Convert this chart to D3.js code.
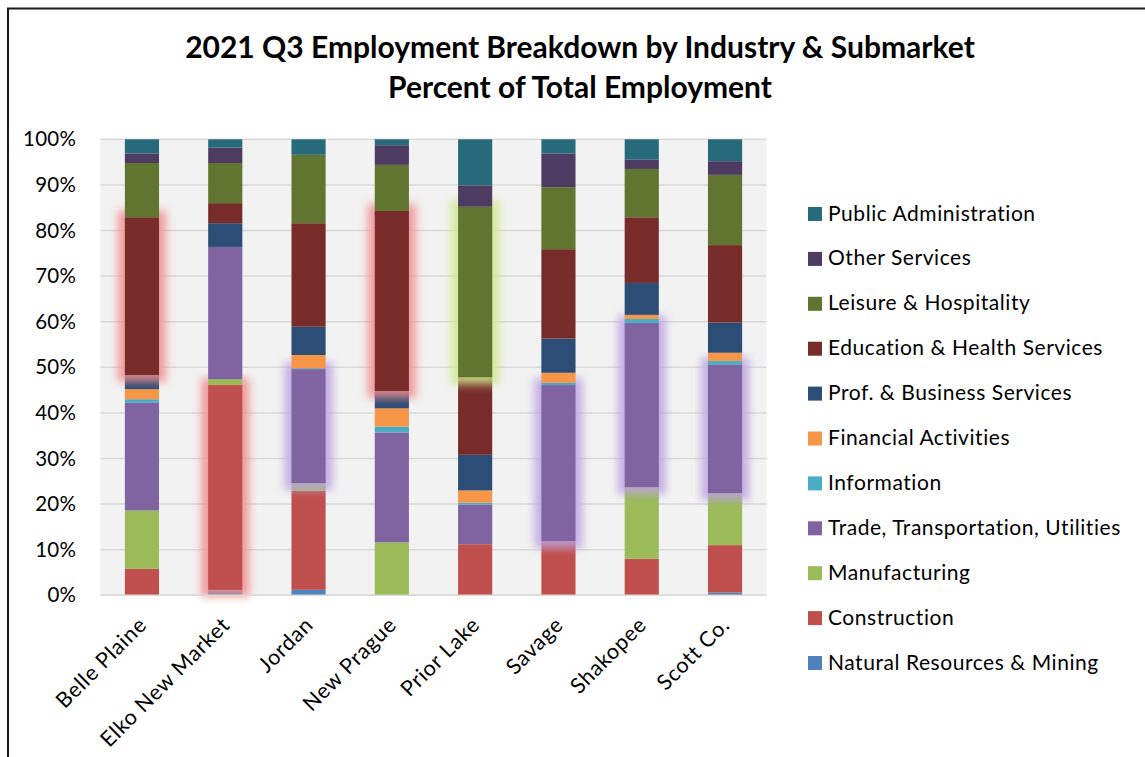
<!DOCTYPE html>
<html>
<head>
<meta charset="utf-8">
<script src="https://cdn.jsdelivr.net/npm/d3@7"></script>
<style>
  html, body { margin: 0; padding: 0; background: #fff; }
  svg { display: block; }
  text { font-family: Lato, "Open Sans", "Liberation Sans", sans-serif; fill: #000; }
</style>
</head>
<body>
<svg id="chart" width="1145" height="757"></svg>
<script>
// Submarkets along the x axis
const categories = ["Belle Plaine", "Elko New Market", "Jordan", "New Prague", "Prior Lake", "Savage", "Shakopee", "Scott Co."];

// Industries, stacked bottom to top
const industries = [
  "Natural Resources & Mining", "Construction", "Manufacturing",
  "Trade, Transportation, Utilities", "Information", "Financial Activities",
  "Prof. & Business Services", "Education & Health Services",
  "Leisure & Hospitality", "Other Services", "Public Administration"
];

// Share of total employment (%) per industry, one value per submarket
const naturalResources = [0.0, 1.2, 1.2, 0.0, 0.0, 0.0, 0.0, 0.6];
const construction     = [5.8, 44.9, 21.7, 0.0, 11.2, 11.9, 8.0, 10.4];
const manufacturing    = [12.8, 1.3, 1.7, 11.6, 0.0, 0.0, 15.7, 11.4];
const tradeTransport   = [23.6, 29.0, 25.0, 24.1, 8.7, 34.2, 36.0, 28.2];
const information      = [0.8, 0.0, 0.2, 1.3, 0.4, 0.5, 0.9, 0.8];
const financial        = [2.2, 0.0, 2.9, 4.0, 2.7, 2.2, 0.9, 1.8];
const profBusiness     = [3.1, 5.2, 6.2, 3.8, 7.8, 7.5, 7.0, 6.6];
const educationHealth  = [34.6, 4.4, 22.7, 39.5, 17.0, 19.6, 14.4, 17.0];
const leisure          = [11.9, 8.8, 15.0, 10.1, 37.4, 13.6, 10.6, 15.4];
const otherServices    = [2.1, 3.4, 0.0, 4.3, 4.7, 7.4, 2.1, 3.0];
const publicAdmin      = [3.1, 1.8, 3.4, 1.3, 10.1, 3.1, 4.4, 4.8];

// Largest employer in each submarket, drawn with a halo
const highlighted = [
  ["Belle Plaine", "Education & Health Services"],
  ["Elko New Market", "Construction"],
  ["Jordan", "Trade, Transportation, Utilities"],
  ["New Prague", "Education & Health Services"],
  ["Prior Lake", "Leisure & Hospitality"],
  ["Savage", "Trade, Transportation, Utilities"],
  ["Shakopee", "Trade, Transportation, Utilities"],
  ["Scott Co.", "Trade, Transportation, Utilities"]
];

const yTicks = [0, 10, 20, 30, 40, 50, 60, 70, 80, 90, 100];

const seriesValues = [naturalResources, construction, manufacturing, tradeTransport,
  information, financial, profBusiness, educationHealth, leisure, otherServices, publicAdmin];

const colors = ["#4f81bd", "#c0504d", "#9bbb59", "#8064a2", "#4bacc6", "#f79646",
  "#2c4d75", "#772c2a", "#5f7530", "#4d3b62", "#276a7c"];
const glowColors = {
  "#c0504d": "#f08c8c", "#772c2a": "#f08c8c",
  "#5f7530": "#cfe88c", "#8064a2": "#bda3e0"
};

// Build rows for d3.stack
const rows = categories.map((c, i) => {
  const r = { category: c };
  industries.forEach((s, k) => { r[s] = seriesValues[k][i]; });
  return r;
});
const stacked = d3.stack().keys(industries)(rows);

const svg = d3.select("#chart");
const plot = { left: 100.3, right: 766.7, top: 139.3, bottom: 595.3 };

const x = d3.scaleBand().domain(categories).range([plot.left, plot.right]).paddingInner(0.59).paddingOuter(0.295);
const y = d3.scaleLinear().domain([0, 100]).range([plot.bottom, plot.top]);

// Outer chart frame
svg.append("path")
  .attr("d", "M8,760 L8,8.5 L1150,8.5")
  .attr("fill", "none").attr("stroke", "#1a1a1a").attr("stroke-width", 2);

// Plot area fill
svg.append("rect")
  .attr("x", plot.left).attr("y", plot.top)
  .attr("width", plot.right - plot.left).attr("height", plot.bottom - plot.top)
  .attr("fill", "#f2f2f2");

// Gridlines
svg.append("g").selectAll("line").data(yTicks).join("line")
  .attr("x1", plot.left).attr("x2", plot.right)
  .attr("y1", d => y(d)).attr("y2", d => y(d))
  .attr("stroke", "#d9d9d9").attr("stroke-width", 1.5);

// Y axis labels
const yAxis = d3.axisLeft(y).tickValues(yTicks).tickFormat(d => d + "%").tickSize(0).tickPadding(24);
const yg = svg.append("g").attr("transform", `translate(${plot.left},0)`).call(yAxis);
yg.select(".domain").remove();
yg.selectAll("text").attr("font-size", 20.5).attr("letter-spacing", 0.3)
  .attr("font-family", "Lato, sans-serif").attr("fill", "#000");

// Halo filter
const defs = svg.append("defs");
defs.append("filter").attr("id", "halo").attr("x", "-50%").attr("y", "-50%").attr("width", "200%").attr("height", "200%")
  .append("feGaussianBlur").attr("stdDeviation", 4.5);

const isHighlighted = (cat, key) => highlighted.some(h => h[0] === cat && h[1] === key);

// Bars: each series in order, halos drawn just before their segment
const bars = svg.append("g");
stacked.forEach((layer, k) => {
  const g = bars.append("g");
  layer.forEach(d => {
    const cat = d.data.category;
    const y0 = y(d[0]), y1 = y(d[1]);
    if (isHighlighted(cat, layer.key)) {
      g.append("rect")
        .attr("x", x(cat) - 7).attr("width", x.bandwidth() + 14)
        .attr("y", y1 - 7).attr("height", y0 - y1 + 14)
        .attr("fill", glowColors[colors[k]]).attr("opacity", 0.85)
        .attr("filter", "url(#halo)");
    }
    if (d[1] - d[0] > 0) {
      g.append("rect")
        .attr("x", x(cat)).attr("width", x.bandwidth())
        .attr("y", y1).attr("height", y0 - y1)
        .attr("fill", colors[k]);
    }
  });
});

// X axis line
svg.append("line")
  .attr("x1", plot.left).attr("x2", plot.right)
  .attr("y1", plot.bottom).attr("y2", plot.bottom)
  .attr("stroke", "#d9d9d9").attr("stroke-width", 1.5);

// X axis labels, rotated
const xAxis = d3.axisBottom(x).tickSize(0).tickPadding(0);
const xg = svg.append("g").attr("transform", `translate(0,${plot.bottom})`).call(xAxis);
xg.select(".domain").remove();
xg.selectAll("text")
  .attr("font-size", 21.5).attr("letter-spacing", 0.7)
  .attr("font-family", "Lato, sans-serif").attr("fill", "#000")
  .attr("text-anchor", "end")
  .attr("dy", null)
  .attr("transform", "translate(6,31) rotate(-45)")
  .attr("y", 0).attr("x", 0);

// Title
const title = svg.append("text").attr("x", 580).attr("text-anchor", "middle")
  .attr("font-size", 30).attr("font-weight", "bold");
title.append("tspan").attr("x", 580).attr("y", 58).text("2021 Q3 Employment Breakdown by Industry & Submarket");
title.append("tspan").attr("x", 580).attr("y", 98).text("Percent of Total Employment");

// Legend, top entry is the top of the stack
const legendItems = industries.slice().reverse();
const legend = svg.append("g").attr("transform", "translate(808,214)");
legendItems.forEach((name, i) => {
  const k = industries.indexOf(name);
  const g = legend.append("g").attr("transform", `translate(0,${i * 44.9})`);
  g.append("rect").attr("x", 0).attr("y", -7).attr("width", 14).attr("height", 14).attr("fill", colors[k]);
  g.append("text").attr("x", 20).attr("y", -1).attr("dy", "0.36em")
    .attr("font-size", 21).attr("letter-spacing", 0.55).text(name);
});
</script>
</body>
</html>
